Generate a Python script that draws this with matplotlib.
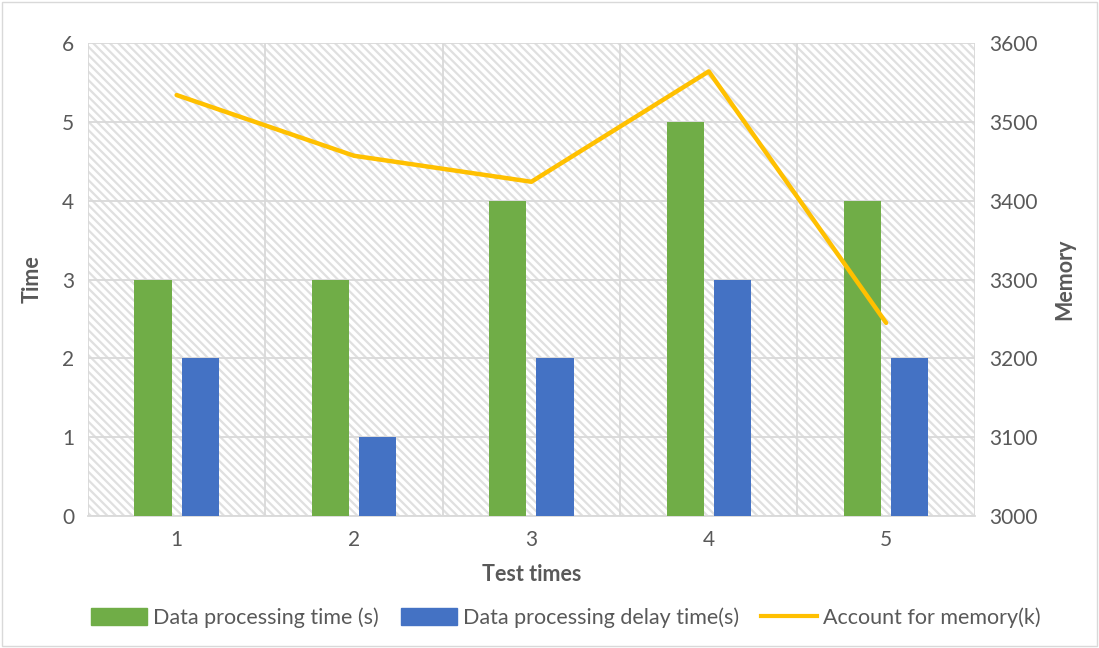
import numpy as np
import matplotlib.pyplot as plt
from matplotlib.patches import Rectangle
from matplotlib.lines import Line2D

# data
tests = [1, 2, 3, 4, 5]
processing_time = [3, 3, 4, 5, 4]
delay_time = [2, 1, 2, 3, 2]
memory = [3534, 3457, 3424, 3564, 3245]

green = '#70ad47'
blue = '#4472c4'
gold = '#ffc000'
grid_c = '#d9d9d9'
text_c = '#595959'

plt.rcParams['font.family'] = ['Lato', 'DejaVu Sans']
plt.rcParams['hatch.linewidth'] = 1.6

fig = plt.figure(figsize=(10.99, 6.48), dpi=100)
ax = fig.add_axes([0.080, 0.2037, 0.807, 0.7299])

# hatched plot area
ax.add_patch(Rectangle((0, 0), 1, 1, transform=ax.transAxes, facecolor='white',
                       edgecolor='#e0e0e0', lw=0, hatch='\\\\\\\\', zorder=0))

x = np.array(tests)
w = 0.21
ax.bar(x - 0.133, processing_time, w, color=green, zorder=3)
ax.bar(x + 0.133, delay_time, w, color=blue, zorder=3)

ax.set_xlim(0.5, 5.5)
ax.set_ylim(0, 6)
ax.set_xticks(tests)
ax.set_xticks(np.arange(0.5, 5.6, 1), minor=True)
ax.set_yticks(range(0, 7))
ax.grid(True, which='major', axis='y', color=grid_c, lw=1.3, zorder=1)
ax.grid(True, which='minor', axis='x', color=grid_c, lw=1.3, zorder=1)
ax.tick_params(which='both', length=0, labelsize=15, labelcolor=text_c, pad=10)
for s in ['top', 'right', 'left']:
    ax.spines[s].set_visible(False)
ax.spines['bottom'].set_color(grid_c)
ax.spines['bottom'].set_linewidth(1.3)
ax.set_axisbelow(True)

ax.set_xlabel('Test times', fontsize=15.5, fontweight='bold', color=text_c, labelpad=10)
ax.set_ylabel('Time', fontsize=15.5, fontweight='bold', color=text_c, labelpad=14)

ax2 = ax.twinx()
ax2.plot(tests, memory, color=gold, lw=3.2, solid_capstyle='round', zorder=4)
ax2.set_ylim(3000, 3600)
ax2.set_yticks(range(3000, 3601, 100))
ax2.tick_params(length=0, labelsize=15, labelcolor=text_c, pad=10)
for s in ax2.spines.values():
    s.set_visible(False)
ax2.set_ylabel('Memory', fontsize=15.5, fontweight='bold', color=text_c, labelpad=12)

handles = [Rectangle((0, 0), 1, 1, color=green),
           Rectangle((0, 0), 1, 1, color=blue),
           Line2D([0], [0], color=gold, lw=3)]
labels = ['Data processing time (s)', 'Data processing delay time(s)', 'Account for memory(k)']
leg = fig.legend(handles, labels, loc='center', bbox_to_anchor=(0.515, 0.047), ncol=3,
                 frameon=False, fontsize=15.5, handlelength=2.6, handleheight=0.8,
                 columnspacing=1.0, handletextpad=0.3)
for t in leg.get_texts():
    t.set_color(text_c)

# outer chart border
fig.add_artist(Rectangle((0.002, 0.003), 0.996, 0.994, transform=fig.transFigure,
                         fill=False, edgecolor=grid_c, lw=1))

fig.savefig('out.png', dpi=100)
